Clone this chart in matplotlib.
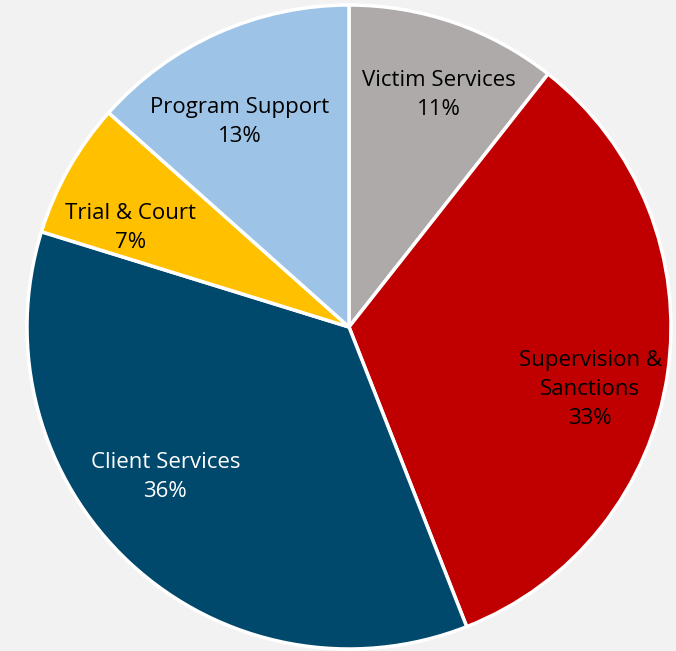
import matplotlib
matplotlib.use("Agg")
import matplotlib.pyplot as plt

# Budget share by program area (clockwise from 12 o'clock)
categories = ["Victim Services", "Supervision &\nSanctions", "Client Services",
              "Trial & Court", "Program Support"]
shares = [10.6, 33.4, 35.7, 6.8, 13.4]
colors = ["#AEAAAA", "#C00000", "#00496D", "#FFC000", "#9DC3E6"]
text_colors = ["black", "black", "white", "black", "black"]

# small nudges (axes units) so labels sit where the original puts them
label_nudge = [(0.031, 0.003), (-0.003, -0.084), (-0.053, 0.090),
               (-0.016, -0.065), (-0.028, -0.056)]

total = sum(shares)
labels = [f"{c}\n{round(v / total * 100)}%" for c, v in zip(categories, shares)]

fig = plt.figure(figsize=(6.76, 6.51), dpi=100)
fig.patch.set_facecolor("#F2F2F2")

# square axes so the pie fills the frame like the original
ax = fig.add_axes([27 / 676, 2 / 651, 644 / 676, 644 / 651])
ax.set_facecolor("#F2F2F2")

wedges, texts = ax.pie(
    shares,
    labels=labels,
    colors=colors,
    startangle=90,
    counterclock=False,
    labeldistance=0.76,
    radius=1.0,
    wedgeprops=dict(edgecolor="white", linewidth=2.5),
    textprops=dict(fontsize=16, family="Open Sans", linespacing=1.5,
                   ha="center", va="center"),
)
for t, tc, (dx, dy) in zip(texts, text_colors, label_nudge):
    t.set_color(tc)
    t.set_horizontalalignment("center")
    x, y = t.get_position()
    t.set_position((x + dx, y + dy))

ax.set_xlim(-1, 1)
ax.set_ylim(-1, 1)
ax.set_aspect("equal")
ax.axis("off")

fig.savefig("out.png", dpi=100, facecolor=fig.get_facecolor())
